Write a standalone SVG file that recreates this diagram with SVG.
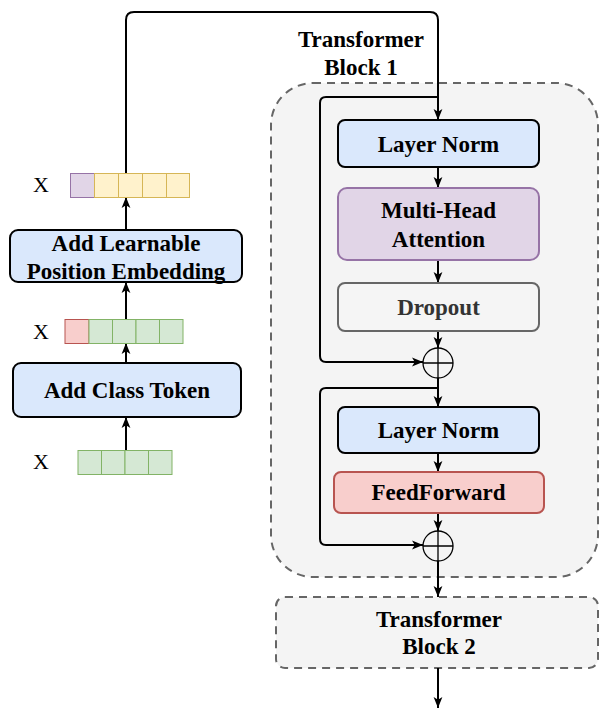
<svg xmlns="http://www.w3.org/2000/svg" width="599" height="710" viewBox="0 0 599 710">
<style>
.t{font-family:"Liberation Serif","Times New Roman",serif;font-weight:bold;font-size:23px;fill:#000;text-anchor:middle}
.x{font-family:"Liberation Serif","Times New Roman",serif;font-size:22px;fill:#000;text-anchor:middle}
.c{fill:none;stroke:#000;stroke-width:2;stroke-linejoin:round}
.box{stroke-width:2}
.blue{fill:#dae8fc;stroke:#000}
.purple{fill:#e1d5e7;stroke:#9673a6}
.gray{fill:#f5f5f5;stroke:#666}
.red{fill:#f8cecc;stroke:#b85450}
.cont{fill:#f4f4f4;stroke:#666;stroke-width:2;stroke-dasharray:8 6}
.cp{fill:#e1d5e7;stroke:#9673a6;stroke-width:1}
.cy{fill:#fff2cc;stroke:#d6b656;stroke-width:1}
.cg{fill:#d5e8d4;stroke:#82b366;stroke-width:1}
.cr{fill:#f8cecc;stroke:#b85450;stroke-width:1}
.plus{fill:none;stroke:#000;stroke-width:1.3}
</style>
<defs>
<marker id="a" viewBox="0 0 10 10" refX="10" refY="5" markerWidth="11" markerHeight="11" markerUnits="userSpaceOnUse" orient="auto">
<path d="M0,1 L10,5 L0,9 L2.5,5 Z" fill="#000"/>
</marker>
</defs>

<g id="container1">
<rect class="cont" x="271" y="83" width="327" height="494" rx="42"/>
<text class="t" x="361" y="47">Transformer</text>
<text class="t" x="361" y="75">Block 1</text>
</g>

<g id="container2">
<rect class="cont" x="276" y="597" width="322" height="71" rx="9"/>
<text class="t" x="439" y="627">Transformer</text>
<text class="t" x="439" y="654">Block 2</text>
</g>

<g id="connectors">
<path class="c" d="M126,173 V20 Q126,12 134,12 H430 Q438,12 438,20 V120" marker-end="url(#a)"/>
<path class="c" d="M438,97 H326 Q320,97 320,103 V356 Q320,362 326,362 H423" marker-end="url(#a)"/>
<path class="c" d="M438,167 V188" marker-end="url(#a)"/>
<path class="c" d="M438,260 V283" marker-end="url(#a)"/>
<path class="c" d="M438,331 V348" marker-end="url(#a)"/>
<path class="c" d="M438,378 V407" marker-end="url(#a)"/>
<path class="c" d="M438,388 H326 Q320,388 320,394 V539 Q320,545 326,545 H423" marker-end="url(#a)"/>
<path class="c" d="M438,453 V472" marker-end="url(#a)"/>
<path class="c" d="M438,513 V531" marker-end="url(#a)"/>
<path class="c" d="M438,561 V597" marker-end="url(#a)"/>
<path class="c" d="M438,668 V708" marker-end="url(#a)"/>
<path class="c" d="M126,450 V417" marker-end="url(#a)"/>
<path class="c" d="M126,363 V343" marker-end="url(#a)"/>
<path class="c" d="M126,319 V282" marker-end="url(#a)"/>
<path class="c" d="M126,230 V197" marker-end="url(#a)"/>
</g>

<g id="tokens1">
<text class="x" x="41" y="192">X</text>
<rect class="cp" x="70.5" y="173.5" width="24" height="24"/>
<rect class="cy" x="94.5" y="173.5" width="24" height="24"/>
<rect class="cy" x="118.5" y="173.5" width="24" height="24"/>
<rect class="cy" x="142.5" y="173.5" width="24" height="24"/>
<rect class="cy" x="166.5" y="173.5" width="23" height="24"/>
</g>

<g id="addPos">
<rect class="box blue" x="10" y="230" width="232" height="52" rx="8"/>
<text class="t" x="126" y="251">Add Learnable</text>
<text class="t" x="126" y="279">Position Embedding</text>
</g>

<g id="tokens2">
<text class="x" x="41" y="339">X</text>
<rect class="cr" x="65" y="319.5" width="24" height="24"/>
<rect class="cg" x="89" y="319.5" width="23.5" height="24"/>
<rect class="cg" x="112.5" y="319.5" width="23.5" height="24"/>
<rect class="cg" x="136" y="319.5" width="23.5" height="24"/>
<rect class="cg" x="159.5" y="319.5" width="23.5" height="24"/>
</g>

<g id="addClass">
<rect class="box blue" x="13" y="363" width="228" height="54" rx="8"/>
<text class="t" x="127" y="398">Add Class Token</text>
</g>

<g id="tokens3">
<text class="x" x="41" y="469">X</text>
<rect class="cg" x="78" y="450.5" width="23.5" height="24"/>
<rect class="cg" x="101.5" y="450.5" width="23.5" height="24"/>
<rect class="cg" x="125" y="450.5" width="23.5" height="24"/>
<rect class="cg" x="148.5" y="450.5" width="23.5" height="24"/>
</g>

<g id="layerNorm1">
<rect class="box blue" x="338" y="120" width="201" height="47" rx="7"/>
<text class="t" x="438.5" y="152">Layer Norm</text>
</g>

<g id="mha">
<rect class="box purple" x="338" y="188" width="201" height="72" rx="9"/>
<text class="t" x="438.5" y="218">Multi-Head</text>
<text class="t" x="438.5" y="247">Attention</text>
</g>

<g id="dropout">
<rect class="box gray" x="338" y="283" width="201" height="48" rx="7"/>
<text class="t" x="438.5" y="315" style="fill:#333">Dropout</text>
</g>

<g id="add1">
<circle class="plus" cx="438" cy="363" r="15"/>
<path class="plus" d="M423,363 H453 M438,348 V378"/>
</g>

<g id="layerNorm2">
<rect class="box blue" x="338" y="407" width="201" height="46" rx="7"/>
<text class="t" x="438.5" y="438">Layer Norm</text>
</g>

<g id="feedForward">
<rect class="box red" x="334" y="472" width="210" height="41" rx="7"/>
<text class="t" x="438.5" y="500">FeedForward</text>
</g>

<g id="add2">
<circle class="plus" cx="438" cy="546" r="15"/>
<path class="plus" d="M423,546 H453 M438,531 V561"/>
</g>
</svg>
